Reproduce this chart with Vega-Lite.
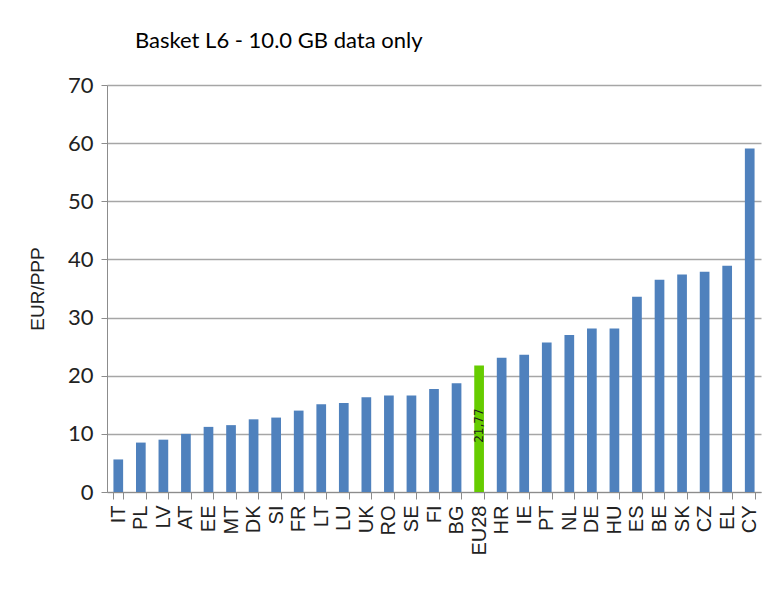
{
  "$schema": "https://vega.github.io/schema/vega-lite/v6.json",
  "width": 654,
  "height": 407,
  "padding": {"left": 28, "top": 30, "right": 10, "bottom": 5},
  "background": "white",
  "title": {
    "text": "Basket L6 - 10.0 GB data only",
    "anchor": "start",
    "frame": "group",
    "dx": 28,
    "font": "Lato",
    "fontSize": 22,
    "fontWeight": "normal",
    "color": "#000000",
    "offset": 21
  },
  "data": {
    "values": [
      {"country": "IT", "value": 5.6, "group": "country"},
      {"country": "PL", "value": 8.5, "group": "country"},
      {"country": "LV", "value": 9.0, "group": "country"},
      {"country": "AT", "value": 10.0, "group": "country"},
      {"country": "EE", "value": 11.2, "group": "country"},
      {"country": "MT", "value": 11.5, "group": "country"},
      {"country": "DK", "value": 12.5, "group": "country"},
      {"country": "SI", "value": 12.8, "group": "country"},
      {"country": "FR", "value": 14.0, "group": "country"},
      {"country": "LT", "value": 15.1, "group": "country"},
      {"country": "LU", "value": 15.3, "group": "country"},
      {"country": "UK", "value": 16.3, "group": "country"},
      {"country": "RO", "value": 16.6, "group": "country"},
      {"country": "SE", "value": 16.6, "group": "country"},
      {"country": "FI", "value": 17.7, "group": "country"},
      {"country": "BG", "value": 18.7, "group": "country"},
      {"country": "EU28", "value": 21.77, "group": "eu", "label": "21,77"},
      {"country": "HR", "value": 23.1, "group": "country"},
      {"country": "IE", "value": 23.6, "group": "country"},
      {"country": "PT", "value": 25.7, "group": "country"},
      {"country": "NL", "value": 27.0, "group": "country"},
      {"country": "DE", "value": 28.1, "group": "country"},
      {"country": "HU", "value": 28.1, "group": "country"},
      {"country": "ES", "value": 33.6, "group": "country"},
      {"country": "BE", "value": 36.5, "group": "country"},
      {"country": "SK", "value": 37.4, "group": "country"},
      {"country": "CZ", "value": 37.9, "group": "country"},
      {"country": "EL", "value": 38.9, "group": "country"},
      {"country": "CY", "value": 59.1, "group": "country"}
    ]
  },
  "encoding": {
    "x": {
      "field": "country",
      "type": "nominal",
      "sort": null,
      "scale": {"paddingInner": 0.57, "paddingOuter": 0.285},
      "axis": {
        "title": null,
        "labelAngle": -90,
        "labelFont": "Liberation Sans",
        "labelFontSize": 20,
        "labelColor": "#222222",
        "labelPadding": 6,
        "tickBand": "extent",
        "tickColor": "#8c8c8c",
        "tickSize": 7,
        "domainColor": "#8c8c8c",
        "grid": false
      }
    },
    "y": {
      "field": "value",
      "type": "quantitative",
      "scale": {"domain": [0, 70], "nice": false},
      "axis": {
        "title": "EUR/PPP",
        "titleFont": "Liberation Sans",
        "titleFontSize": 19,
        "titleFontWeight": "normal",
        "titleColor": "#222222",
        "titlePadding": 20,
        "values": [0, 10, 20, 30, 40, 50, 60, 70],
        "labelFont": "Lato",
        "labelFontSize": 22,
        "labelColor": "#222222",
        "labelPadding": 8,
        "tickColor": "#8c8c8c",
        "tickSize": 6,
        "domainColor": "#8c8c8c",
        "gridColor": "#a6a6a6",
        "gridWidth": 1.3
      }
    }
  },
  "layer": [
    {
      "mark": {"type": "bar"},
      "encoding": {
        "color": {
          "field": "group",
          "type": "nominal",
          "scale": {"domain": ["country", "eu"], "range": ["#4F81BD", "#66CC00"]},
          "legend": null
        }
      }
    },
    {
      "transform": [{"filter": "isValid(datum.label)"}],
      "mark": {"type": "text", "angle": 270, "align": "right", "baseline": "middle", "dx": -43, "font": "DejaVu Sans", "fontSize": 12, "color": "#1a1a1a"},
      "encoding": {
        "text": {"field": "label", "type": "nominal"}
      }
    }
  ],
  "config": {
    "view": {"stroke": null}
  }
}
